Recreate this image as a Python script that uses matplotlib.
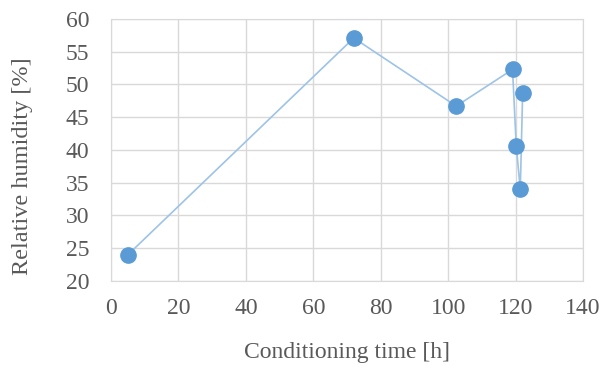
import matplotlib
matplotlib.use("Agg")
import matplotlib.pyplot as plt

time_h = [5, 72, 102.4, 119.1, 120.2, 121.4, 122.1]
rh_pct = [24.0, 57.1, 46.7, 52.3, 40.6, 34.0, 48.7]
xticks = [0, 20, 40, 60, 80, 100, 120, 140]
yticks = [20, 25, 30, 35, 40, 45, 50, 55, 60]

plt.rcParams['font.family'] = ['Liberation Serif', 'DejaVu Serif']
fig = plt.figure(figsize=(6.03, 3.67), dpi=100)
ax = fig.add_axes([111/603, 1-281/367, 472/603, 262/367])
ax.plot(time_h, rh_pct, color='#9DC3E6', lw=1.2, zorder=2)
ax.plot(time_h, rh_pct, 'o', color='#5B9BD5', ms=11, zorder=3, clip_on=False)
ax.set_xlim(0, 140)
ax.set_ylim(20, 60)
ax.set_xticks(xticks)
ax.set_yticks(yticks)
ax.grid(True, color='#D9D9D9', lw=1)
ax.set_axisbelow(True)
for s in ax.spines.values():
    s.set_color('#D9D9D9')
ax.tick_params(length=0, labelsize=17, labelcolor='#595959')
ax.tick_params(axis='x', pad=12)
ax.tick_params(axis='y', pad=15.5)
ax.set_xlabel('Conditioning time [h]', fontsize=17, color='#595959')
ax.set_ylabel('Relative humidity [%]', fontsize=17.5, color='#595959')
ax.xaxis.set_label_coords(0.5, -0.233)
ax.yaxis.set_label_coords(-0.165, 0.437)
fig.savefig('out.png', dpi=100)
